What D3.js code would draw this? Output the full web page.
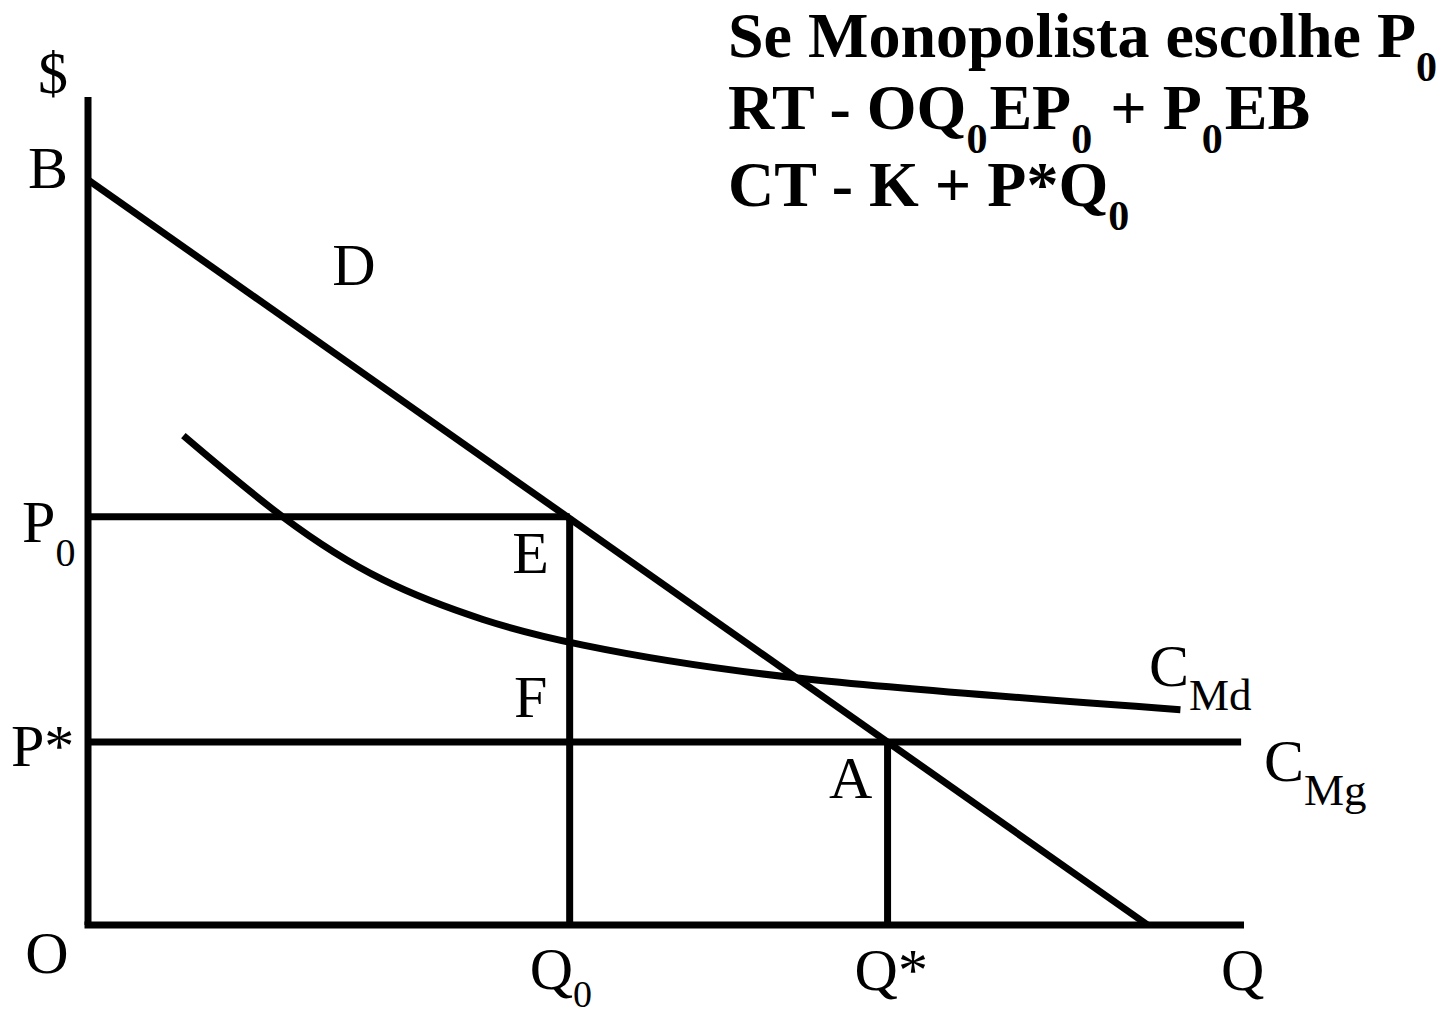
<!DOCTYPE html>
<html>
<head>
<meta charset="utf-8">
<script src="https://cdn.jsdelivr.net/npm/d3@7"></script>
<style>
  body { margin: 0; background: #fff; }
  text { font-family: "Liberation Serif", "Times New Roman", serif; fill: #000; }
</style>
</head>
<body>
<div class="container"></div>
<script>
const wd = 1448
const ht = 1015

// values (Q along x, $ along y)
const qMax = 12
const pMax = 10
const priceB = 9
const qDemandEnd = 11
const q0 = 5
const qStar = 8.3
const p0 = 4.93
const pStar = 2.21

const demandPts = [[0, priceB], [qDemandEnd, 0]]
const cmdPts = [[0.99, 5.91], [2.02, 4.93], [3.06, 4.17], [4.1, 3.69], [5.14, 3.38],
                [7.39, 2.98], [11.34, 2.6]]
const cmgPts = [[0, pStar], [11.97, pStar]]
const p0Pts = [[0, p0], [q0, p0]]
const q0Pts = [[q0, 0], [q0, p0]]
const qStarPts = [[qStar, 0], [qStar, pStar]]

const titleLines = [
  [{t: "Se Monopolista escolhe P"}, {t: "0", sub: true}],
  [{t: "RT - OQ"}, {t: "0", sub: true}, {t: "EP"}, {t: "0", sub: true}, {t: " + P"}, {t: "0", sub: true}, {t: "EB"}],
  [{t: "CT - K + P*Q"}, {t: "0", sub: true}]
]

const x = d3.scaleLinear().domain([0, qMax]).range([88, 1244])
const y = d3.scaleLinear().domain([0, pMax]).range([925, 97])

const svgC = d3.select(".container").append("svg")
  .attr("width", wd)
  .attr("height", ht)

const lineFunc = d3.line()
  .x((d) => x(d[0]))
  .y((d) => y(d[1]))

const curveFunc = d3.line()
  .x((d) => x(d[0]))
  .y((d) => y(d[1]))
  .curve(d3.curveNatural)

const lines = svgC.append("g")
  .attr("fill", "none")
  .attr("stroke", "#000")
  .attr("stroke-width", 7)

// axes
lines.append("path").attr("d", lineFunc([[0, 0], [0, pMax]]))
lines.append("path").attr("d", "M" + (x(0) - 3.5) + "," + y(0) + "H" + x(qMax))

// guides and curves
;[p0Pts, q0Pts, qStarPts, cmgPts, demandPts].forEach((pts) => {
  lines.append("path").attr("d", lineFunc(pts))
})
lines.append("path").attr("d", curveFunc(cmdPts))

// labels: parts + left x (or centre) + baseline
function label(parts, px, py, size, anchor, subSize, shift, gap) {
  let sh = shift || 24
  let t = svgC.append("text")
    .attr("x", px)
    .attr("y", py)
    .attr("font-size", size)
    .attr("text-anchor", anchor || "start")
  parts.forEach((p) => {
    let s = t.append("tspan").text(p.t)
    if (p.sub) {
      s.attr("font-size", subSize || size * 0.66).attr("dy", sh)
    } else if (t.selectAll("tspan").size() > 1) {
      s.attr("dy", -sh).attr("dx", gap || 0)
    }
  })
  return t
}

const fs = 60
label([{t: "$"}], 53, 93, fs, "middle")
label([{t: "B"}], 48, y(priceB) + 8, fs, "middle")
label([{t: "D"}], 354, 285, fs, "middle")
label([{t: "P"}, {t: "0", sub: true}], 22, y(p0) + 25, fs, "start", 40)
label([{t: "P*"}], 11, y(pStar) + 24, fs, "start")
label([{t: "E"}], x(q0) - 39, y(p0) + 56, fs, "middle")
label([{t: "F"}], x(q0) - 39, 717, fs, "middle")
label([{t: "A"}], x(qStar) - 37, y(pStar) + 56, fs, "middle")
label([{t: "C"}, {t: "Md", sub: true}], 1149, 686, fs, "start", 45)
label([{t: "C"}, {t: "Mg", sub: true}], 1264, 781, fs, "start", 45)
label([{t: "O"}], 47, 973, fs, "middle")
label([{t: "Q"}, {t: "0", sub: true}], x(q0) - 40, 989, fs, "start", 38, 18)
label([{t: "Q*"}], x(qStar) - 33, 990, fs, "start")
label([{t: "Q"}], x(qMax) - 23, 990, fs, "start")

// title block
const titleBase = [57, 129, 206]
titleLines.forEach((parts, i) => {
  label(parts, 728, titleBase[i], 64, "start", 42, 24, 2).attr("font-weight", "bold")
})
</script>
</body>
</html>
